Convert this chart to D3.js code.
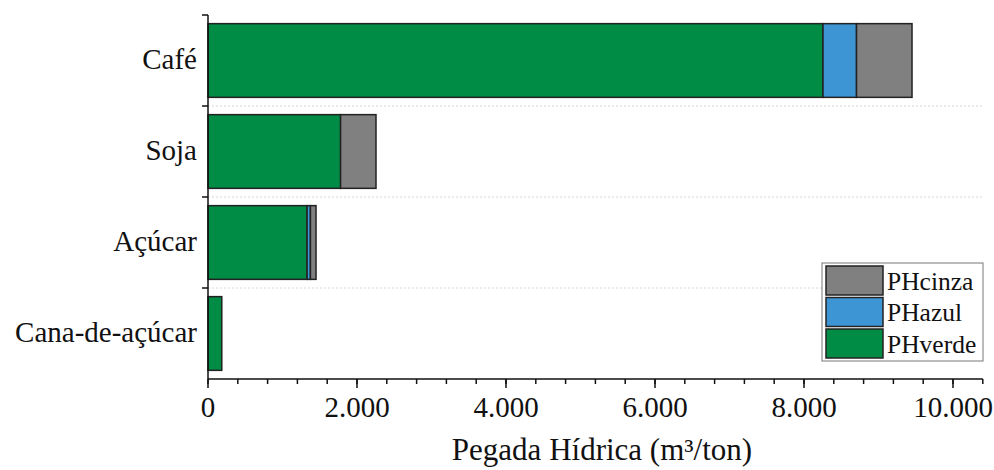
<!DOCTYPE html>
<html>
<head>
<meta charset="utf-8">
<script src="https://cdn.jsdelivr.net/npm/d3@7"></script>
<style>
  body { margin: 0; background: #fff; }
</style>
</head>
<body>
<svg id="chart" width="994" height="470"></svg>
<script>
// Data
const categories = ["Café", "Soja", "Açúcar", "Cana-de-açúcar"];
const phVerde = [8255, 1780, 1330, 185];
const phAzul = [450, 0, 45, 0];
const phCinza = [745, 475, 75, 0];
const seriesNames = ["PHverde", "PHazul", "PHcinza"];
const seriesColors = ["#008c45", "#3d95d4", "#808080"];
const xTicks = [0, 2000, 4000, 6000, 8000, 10000];

const FONT = "Liberation Serif";
const svg = d3.select("#chart");
const margin = {left: 208, top: 15};

const g = svg.append("g").attr("transform", `translate(${margin.left},${margin.top})`);

const x = d3.scaleLinear().domain([0, 10400]).range([0, 745 * 1.04]);
const y = d3.scaleBand().domain(categories).range([0, 364]).paddingInner(0.19).paddingOuter(0.095);

// stack the series
const rows = categories.map((c, i) => ({cat: c, PHverde: phVerde[i], PHazul: phAzul[i], PHcinza: phCinza[i]}));
const stack = d3.stack().keys(seriesNames)(rows);

// dotted grid lines at category boundaries
const bounds = categories.slice(1).map(c => y(c) - y.step() * y.paddingInner() / 2);
g.selectAll(".grid").data(bounds).enter().append("line")
  .attr("x1", 0).attr("x2", x(10400))
  .attr("y1", d => d).attr("y2", d => d)
  .attr("stroke", "#d6d6d6").attr("stroke-width", 1).attr("stroke-dasharray", "2,2");

// bars
g.selectAll(".layer").data(stack).enter().append("g")
  .attr("fill", (d, i) => seriesColors[i])
  .selectAll("rect").data(d => d.filter(p => p[1] - p[0] > 0)).enter().append("rect")
  .attr("x", d => x(d[0]))
  .attr("y", d => y(d.data.cat))
  .attr("width", d => x(d[1]) - x(d[0]))
  .attr("height", y.bandwidth())
  .attr("stroke", "#222").attr("stroke-width", 1.5);

// x axis
const xAxis = g.append("g").attr("transform", "translate(0,364)");
xAxis.append("line").attr("x1", 0).attr("x2", x(10400)).attr("stroke", "#111").attr("stroke-width", 1.5);
const minor = d3.range(0, 10401, 400);
xAxis.selectAll(".minor").data(minor).enter().append("line")
  .attr("x1", d => x(d)).attr("x2", d => x(d)).attr("y1", 0).attr("y2", 5)
  .attr("stroke", "#111").attr("stroke-width", 1.5);
xAxis.selectAll(".major").data(xTicks).enter().append("line")
  .attr("x1", d => x(d)).attr("x2", d => x(d)).attr("y1", 0).attr("y2", 9)
  .attr("stroke", "#111").attr("stroke-width", 1.5);
const fmt = d3.formatLocale({decimal: ",", thousands: ".", grouping: [3], currency: ["", ""]}).format(",d");
xAxis.selectAll(".lbl").data(xTicks).enter().append("text")
  .attr("x", d => x(d)).attr("y", 38)
  .attr("text-anchor", "middle").attr("font-size", 29).attr("font-family", FONT).attr("fill", "#111")
  .text(d => fmt(d));
svg.append("text").attr("x", 602).attr("y", 460)
  .attr("text-anchor", "middle").attr("font-size", 31).attr("font-family", FONT).attr("fill", "#111")
  .text("Pegada Hídrica (m³/ton)");

// y axis
const yAxis = g.append("g");
yAxis.append("line").attr("x1", 0).attr("x2", 0).attr("y1", 0).attr("y2", 364)
  .attr("stroke", "#111").attr("stroke-width", 1.5);
const yTickPos = [0].concat(bounds);
yAxis.selectAll(".yt").data(yTickPos).enter().append("line")
  .attr("x1", -6).attr("x2", 0).attr("y1", d => d).attr("y2", d => d)
  .attr("stroke", "#111").attr("stroke-width", 1.5);
yAxis.selectAll(".ylbl").data(categories).enter().append("text")
  .attr("x", -11).attr("y", d => y(d) + y.bandwidth() / 2)
  .attr("dy", "0.3em").attr("text-anchor", "end").attr("font-size", 29).attr("font-family", FONT).attr("fill", "#111")
  .text(d => d);

// legend
const leg = svg.append("g").attr("transform", "translate(822,263)");
leg.append("rect").attr("width", 161).attr("height", 98)
  .attr("fill", "#fff").attr("stroke", "#777").attr("stroke-width", 1);
const legOrder = ["PHcinza", "PHazul", "PHverde"];
legOrder.forEach((name, i) => {
  const c = seriesColors[seriesNames.indexOf(name)];
  leg.append("rect").attr("x", 4).attr("y", 3 + i * 31.5).attr("width", 57).attr("height", 29)
    .attr("fill", c).attr("stroke", "#222").attr("stroke-width", 1.5);
  leg.append("text").attr("x", 65).attr("y", 18 + i * 31.5).attr("dy", "0.35em")
    .attr("font-size", 25.5).attr("font-family", FONT).attr("fill", "#111").text(name);
});
</script>
</body>
</html>
